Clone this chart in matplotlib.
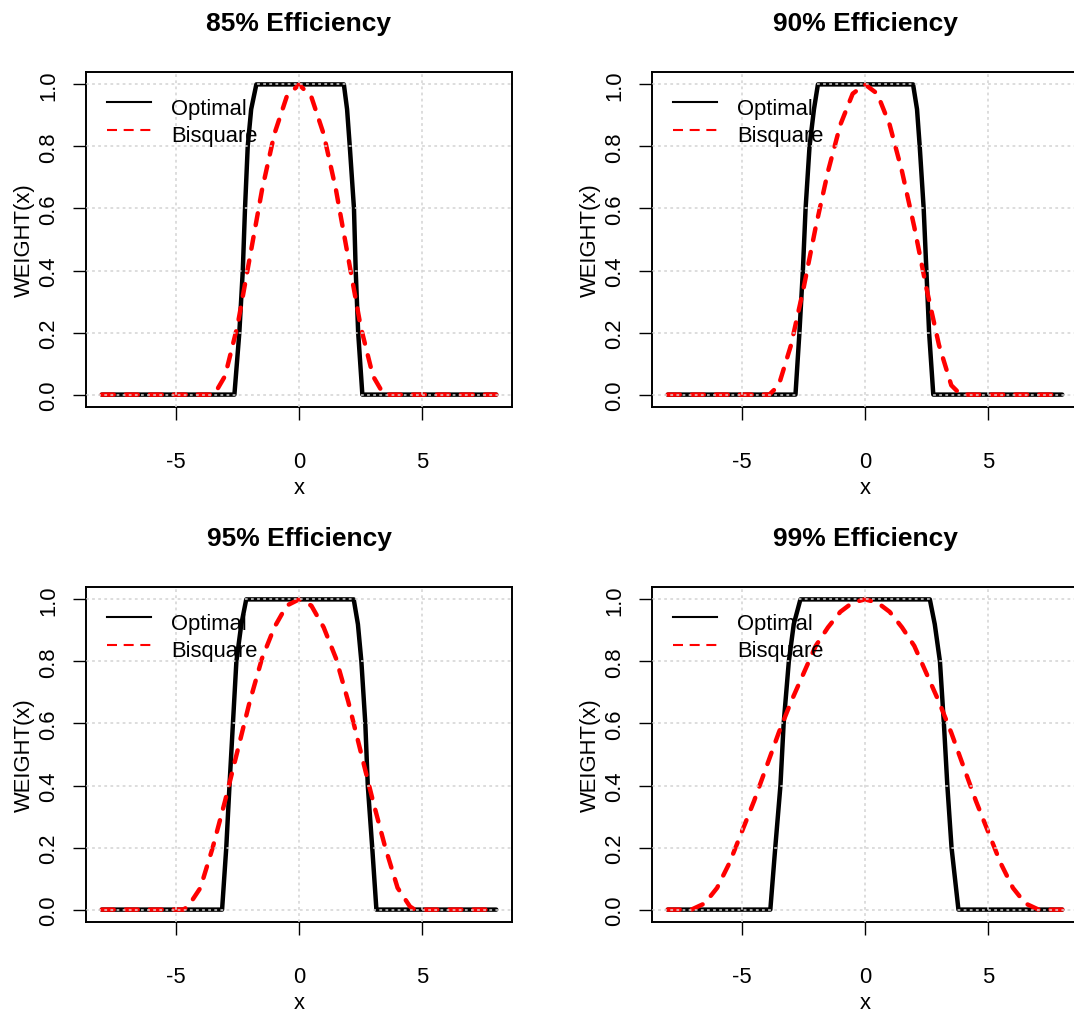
import numpy as np
import matplotlib
matplotlib.use("Agg")
import matplotlib.pyplot as plt

W, H = 1074, 1012

TITLES = ["85% Efficiency", "90% Efficiency", "95% Efficiency", "99% Efficiency"]
X_TICKS = [-5, 0, 5]
Y_TICKS = [0.0, 0.2, 0.4, 0.6, 0.8, 1.0]
LEGEND_LABELS = ["Optimal", "Bisquare"]

# optimal weight curves
OPT_W = [0, 0, 0.2, 0.4, 0.6, 0.8, 0.92, 1, 1, 0.92, 0.8, 0.6, 0.4, 0.2, 0, 0]
OPT_X_85 = [-8, -2.62, -2.42, -2.28, -2.19, -2.08, -1.94, -1.73,
            1.82, 1.95, 2.06, 2.23, 2.30, 2.40, 2.57, 8]
OPT_X_90 = [-8, -2.82, -2.66, -2.52, -2.41, -2.25, -2.07, -1.91,
            1.95, 2.11, 2.22, 2.38, 2.49, 2.60, 2.77, 8]
OPT_X_95 = [-8, -3.12, -2.95, -2.82, -2.68, -2.54, -2.34, -2.14,
            2.22, 2.39, 2.53, 2.69, 2.79, 2.97, 3.14, 8]
OPT_X_99 = [-8, -3.84, -3.64, -3.43, -3.30, -3.09, -2.89, -2.62,
            2.63, 2.83, 3.04, 3.20, 3.34, 3.51, 3.79, 8]

# bisquare weight curves
BIS_X_85 = [-8, -3.44, -3.0, -2.5, -2.0, -1.5, -1.0, -0.5, 0,
            0.5, 1.0, 1.5, 2.0, 2.5, 3.0, 3.44, 8]
BIS_W_85 = [0, 0, 0.06, 0.22, 0.44, 0.66, 0.84, 0.96, 1,
            0.96, 0.84, 0.66, 0.44, 0.22, 0.06, 0, 0]
BIS_X_90 = [-8, -3.88, -3.5, -3.0, -2.5, -2.0, -1.5, -1.0, -0.5, 0,
            0.5, 1.0, 1.5, 2.0, 2.5, 3.0, 3.5, 3.88, 8]
BIS_W_90 = [0, 0, 0.03, 0.16, 0.34, 0.54, 0.72, 0.87, 0.97, 1,
            0.97, 0.87, 0.72, 0.54, 0.34, 0.16, 0.03, 0, 0]
BIS_X_95 = [-8, -4.69, -4.5, -4.0, -3.5, -3.0, -2.5, -2.0, -1.5, -1.0, -0.5, 0,
            0.5, 1.0, 1.5, 2.0, 2.5, 3.0, 3.5, 4.0, 4.5, 4.69, 8]
BIS_W_95 = [0, 0, 0.01, 0.07, 0.20, 0.35, 0.51, 0.67, 0.81, 0.91, 0.98, 1,
            0.98, 0.91, 0.81, 0.67, 0.51, 0.35, 0.20, 0.07, 0.01, 0, 0]
BIS_X_99 = [-8, -7.04, -6.5, -6.0, -5.5, -5.0, -4.5, -4.0, -3.5, -3.0, -2.5, -2.0,
            -1.5, -1.0, -0.5, 0, 0.5, 1.0, 1.5, 2.0, 2.5, 3.0, 3.5, 4.0, 4.5,
            5.0, 5.5, 6.0, 6.5, 7.04, 8]
BIS_W_99 = [0, 0, 0.02, 0.07, 0.15, 0.25, 0.35, 0.46, 0.57, 0.67, 0.76, 0.85,
            0.91, 0.96, 0.99, 1, 0.99, 0.96, 0.91, 0.85, 0.76, 0.67, 0.57, 0.46,
            0.35, 0.25, 0.15, 0.07, 0.02, 0, 0]

OPT_X = [OPT_X_85, OPT_X_90, OPT_X_95, OPT_X_99]
BIS_X = [BIS_X_85, BIS_X_90, BIS_X_95, BIS_X_99]
BIS_W = [BIS_W_85, BIS_W_90, BIS_W_95, BIS_W_99]

plt.rcParams["font.family"] = ["Liberation Sans", "DejaVu Sans"]
plt.rcParams["axes.unicode_minus"] = False

FS = 15.8
FS_TITLE = 19

# panel corners (left, top) in pixels, size 426x335
CORNERS = [(86, 73), (652, 73), (86, 588), (652, 588)]
PW, PH = 426, 335


def rect(left, top):
    return [left / W, 1 - (top + PH) / H, PW / W, PH / H]


fig = plt.figure(figsize=(W / 100, H / 100), dpi=100)

for i in range(4):
    ax = fig.add_axes(rect(*CORNERS[i]))
    ax.plot(OPT_X[i], OPT_W, color="black", lw=3.2,
            solid_capstyle="round", solid_joinstyle="round", zorder=2)
    ax.plot(BIS_X[i], BIS_W[i], color="red", lw=3.2, dashes=(2.7, 2.7),
            dash_capstyle="round", dash_joinstyle="round", zorder=2.1)

    ax.set_xlim(-8.64, 8.64)
    ax.set_ylim(-0.04, 1.04)
    ax.set_xticks(X_TICKS)
    ax.set_xticklabels([str(v) for v in X_TICKS])
    ax.set_yticks(Y_TICKS)
    ax.set_yticklabels([f"{v:.1f}" for v in Y_TICKS])
    # R's grid() is drawn over the curves
    ax.set_axisbelow(False)
    ax.grid(True, color="#d3d3d3", linestyle=(0, (1.8, 2.2)), linewidth=1.1)

    ax.tick_params(axis="both", direction="out", length=9.5, width=1.0,
                   labelsize=FS, color="black")
    ax.tick_params(axis="x", pad=22.3)
    ax.tick_params(axis="y", pad=9.5, labelrotation=90)
    for lab in ax.get_yticklabels():
        lab.set_va("center")
    for s in ax.spines.values():
        s.set_linewidth(1.4)

    ax.set_title(TITLES[i], fontsize=FS_TITLE, fontweight="bold", pad=30)
    ax.set_xlabel("x", fontsize=FS)
    ax.set_ylabel("WEIGHT(x)", fontsize=FS)
    ax.xaxis.set_label_coords(0.5, -0.209)
    ax.yaxis.set_label_coords(-0.119, 0.5)

    # legend, placed like R's legend("topleft", bty="n")
    ax.plot([0.0493, 0.1526], [0.9113, 0.9113], transform=ax.transAxes,
            color="black", lw=1.5, clip_on=False)
    ax.plot([0.0493, 0.1526], [0.8278, 0.8278], transform=ax.transAxes,
            color="red", lw=1.5, dashes=(4.8, 3.2), clip_on=False)
    ax.text(0.1995, 0.8746, LEGEND_LABELS[0], transform=ax.transAxes,
            fontsize=FS, va="baseline", ha="left")
    ax.text(0.1995, 0.7949, LEGEND_LABELS[1], transform=ax.transAxes,
            fontsize=FS, va="baseline", ha="left")

fig.savefig("out.png", dpi=100)
